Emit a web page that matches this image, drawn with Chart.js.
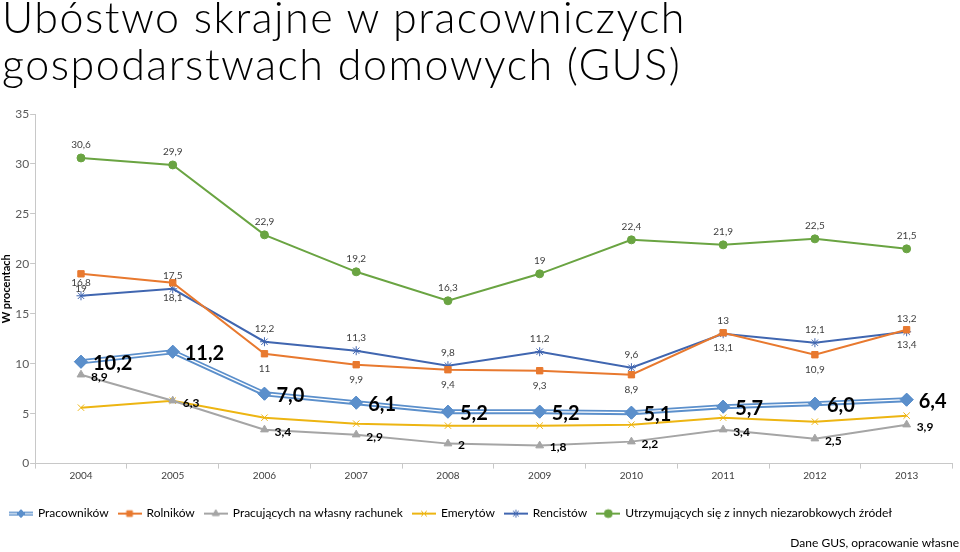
<!DOCTYPE html>
<html lang="pl">
<head>
<meta charset="utf-8">
<title>Ubóstwo skrajne w pracowniczych gospodarstwach domowych (GUS)</title>
<script src="https://cdn.jsdelivr.net/npm/chart.js@4.4.1/dist/chart.umd.min.js"></script>
<style>
    html, body { margin: 0; padding: 0; background: #fff; }
    #wrap { width: 960px; height: 552px; position: relative; }
    #title {
        position: absolute; left: 2px; top: -7px; margin: 0;
        font: 300 43px/47px Lato, "Open Sans", sans-serif;
        letter-spacing: 1.5px; color: #000; white-space: nowrap;
    }
</style>
</head>
<body>
<div id="wrap">
    <canvas id="chartUbostwo"></canvas>
    <h1 id="title">Ubóstwo skrajne w pracowniczych<br>gospodarstwach domowych (GUS)</h1>
</div>
<script>
/* ═══════════════════════════════════════════
   DATA
═══════════════════════════════════════════ */
const years = ['2004', '2005', '2006', '2007', '2008', '2009', '2010', '2011', '2012', '2013'];

const pracownikow      = [10.2, 11.2, 7.0, 6.1, 5.2, 5.2, 5.1, 5.7, 6.0, 6.4];
const rolnikow         = [19, 18.1, 11, 9.9, 9.4, 9.3, 8.9, 13.1, 10.9, 13.4];
const naWlasnyRachunek = [8.9, 6.3, 3.4, 2.9, 2, 1.8, 2.2, 3.4, 2.5, 3.9];
const emerytow         = [5.6, 6.3, 4.6, 4.0, 3.8, 3.8, 3.9, 4.6, 4.2, 4.8];
const rencistow        = [16.8, 17.5, 12.2, 11.3, 9.8, 11.2, 9.6, 13, 12.1, 13.2];
const innychZrodel     = [30.6, 29.9, 22.9, 19.2, 16.3, 19, 22.4, 21.9, 22.5, 21.5];

const yTicks = [0, 5, 10, 15, 20, 25, 30, 35];

const FONT = 'Lato, "Open Sans", sans-serif';

/* Polish decimal comma */
const plNum = v => String(v).replace('.', ',');
const plNum1 = v => v.toFixed(1).replace('.', ',');

/* ═══════════════════════════════════════════
   PLUGINS
═══════════════════════════════════════════ */

/**
 * Data labels drawn next to each point
 */
const valueLabels = {
    id: 'valueLabels',
    afterDatasetsDraw(chart) {
        const ctx = chart.ctx;
        chart.data.datasets.forEach((ds, i) => {
            const lbl = ds.valueLabel;
            const meta = chart.getDatasetMeta(i);
            if (!lbl || meta.hidden) return;

            ctx.save();
            ctx.font = `${lbl.weight || 'normal'} ${lbl.size}px ${FONT}`;
            ctx.fillStyle = lbl.color;
            ctx.textBaseline = 'middle';

            meta.data.forEach((pt, j) => {
                const text = lbl.format(ds.data[j]);
                if (lbl.pos === 'top') {
                    ctx.textAlign = 'center';
                    ctx.fillText(text, pt.x, pt.y - lbl.offset);
                } else if (lbl.pos === 'bottom') {
                    ctx.textAlign = 'center';
                    ctx.fillText(text, pt.x, pt.y + lbl.offset);
                } else {
                    ctx.textAlign = 'left';
                    ctx.fillText(text, pt.x + lbl.offset, pt.y + 2);
                }
            });
            ctx.restore();
        });
    }
};

/**
 * Excel-like double line for the first series
 */
const doubleLine = {
    id: 'doubleLine',
    afterDatasetDraw(chart, args) {
        const ds = chart.data.datasets[args.index];
        if (!ds.doubleLine) return;
        const ctx = chart.ctx;
        const pts = args.meta.data;

        ctx.save();
        ctx.strokeStyle = '#ffffff';
        ctx.lineWidth = 1.4;
        ctx.lineJoin = 'round';
        ctx.beginPath();
        pts.forEach((p, k) => k ? ctx.lineTo(p.x, p.y) : ctx.moveTo(p.x, p.y));
        ctx.stroke();
        ctx.restore();

        // markers back on top
        pts.forEach(p => p.draw(ctx, chart.chartArea));
    }
};

/**
 * Legend icon: short line with the marker in the middle
 */
function legendIcon(ds) {
    const c = document.createElement('canvas');
    c.width = 24;
    c.height = 12;
    const g = c.getContext('2d');

    g.strokeStyle = ds.borderColor;
    g.lineWidth = ds.doubleLine ? 4 : 2;
    g.beginPath();
    g.moveTo(0, 6);
    g.lineTo(24, 6);
    g.stroke();

    if (ds.doubleLine) {
        g.strokeStyle = '#fff';
        g.lineWidth = 1.2;
        g.beginPath();
        g.moveTo(0, 6);
        g.lineTo(24, 6);
        g.stroke();
    }

    g.fillStyle = ds.pointBackgroundColor;
    g.strokeStyle = ds.pointBorderColor;
    g.lineWidth = 1;
    Chart.helpers.drawPoint(g, {
        pointStyle: ds.pointStyle,
        radius: Math.min(ds.pointRadius, 4),
        borderWidth: 1,
        rotation: 0
    }, 12, 6);
    return c;
}

/* ═══════════════════════════════════════════
   CHART
═══════════════════════════════════════════ */
function makeSeries(label, data, color, style, radius, extra) {
    return Object.assign({
        label: label,
        data: data,
        borderColor: color,
        backgroundColor: color,
        pointBackgroundColor: color,
        pointBorderColor: color,
        pointStyle: style,
        pointRadius: radius,
        pointHoverRadius: radius,
        pointBorderWidth: 1,
        borderWidth: 2,
        tension: 0
    }, extra || {});
}

const smallLabel = (pos, offset) => ({
    pos: pos, offset: offset, size: 10, color: '#404040', format: plNum
});

const datasets = [
    makeSeries('Pracowników', pracownikow, '#5B8FCB', 'rectRot', 6.5, {
        borderWidth: 5,
        doubleLine: true,
        valueLabel: { pos: 'right', offset: 12, size: 20, weight: 'bold', color: '#000', format: plNum1 }
    }),
    makeSeries('Rolników', rolnikow, '#E8792F', 'rect', 4.5, {
        valueLabel: smallLabel('bottom', 15)
    }),
    makeSeries('Pracujących na własny rachunek', naWlasnyRachunek, '#A5A5A5', 'triangle', 4.5, {
        valueLabel: { pos: 'right', offset: 10, size: 12, weight: 'bold', color: '#000', format: plNum }
    }),
    makeSeries('Emerytów', emerytow, '#EDB512', 'crossRot', 4.5),
    makeSeries('Rencistów', rencistow, '#4066B0', 'star', 4.5, {
        valueLabel: smallLabel('top', 13)
    }),
    makeSeries('Utrzymujących się z innych niezarobkowych źródeł', innychZrodel, '#6AA442', 'circle', 4, {
        valueLabel: smallLabel('top', 13)
    })
];

const ctx = document.getElementById('chartUbostwo');

new Chart(ctx, {
    type: 'line',
    data: { labels: years, datasets: datasets },
    options: {
        responsive: true,
        maintainAspectRatio: false,
        animation: false,
        layout: { padding: { left: 0, right: 1, top: 114, bottom: 0 } },
        plugins: {
            title: { display: false },
            subtitle: {
                display: true,
                position: 'bottom',
                align: 'end',
                text: 'Dane GUS, opracowanie własne',
                color: '#000',
                font: { family: FONT, size: 12 },
                padding: { top: 6, bottom: 2 }
            },
            legend: {
                position: 'bottom',
                align: 'start',
                labels: {
                    usePointStyle: true,
                    pointStyleWidth: 22,
                    padding: 10,
                    color: '#000',
                    font: { family: FONT, size: 12 },
                    generateLabels(chart) {
                        return chart.data.datasets.map((ds, i) => ({
                            text: ds.label,
                            datasetIndex: i,
                            pointStyle: legendIcon(ds),
                            fillStyle: ds.borderColor,
                            strokeStyle: ds.borderColor,
                            fontColor: '#000',
                            hidden: !chart.isDatasetVisible(i),
                            lineWidth: 0
                        }));
                    }
                }
            },
            tooltip: { enabled: false }
        },
        scales: {
            x: {
                offset: true,
                grid: { offset: true, drawOnChartArea: false, drawTicks: true, tickLength: 5, color: '#c8c8c8' },
                border: { color: '#c8c8c8' },
                ticks: { color: '#404040', font: { family: FONT, size: 10 }, padding: 1, maxRotation: 0 },
                afterFit: scale => { scale.height += 15; }
            },
            y: {
                min: 0,
                max: 35,
                afterBuildTicks: scale => { scale.ticks = yTicks.map(v => ({ value: v })); },
                grid: { drawOnChartArea: false, drawTicks: true, tickLength: 5, color: '#c8c8c8' },
                border: { color: '#c8c8c8' },
                ticks: { color: '#595959', font: { family: FONT, size: 12 }, padding: 1 },
                title: {
                    display: true,
                    text: 'W procentach',
                    color: '#000',
                    font: { family: FONT, size: 11, weight: 'bold' },
                    padding: { top: 0, bottom: 1 }
                }
            }
        }
    },
    plugins: [doubleLine, valueLabels]
});
</script>
</body>
</html>
